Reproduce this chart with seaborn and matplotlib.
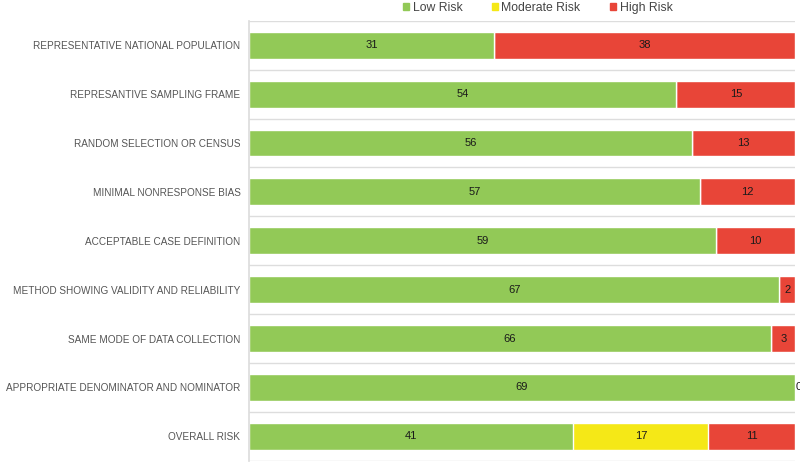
import matplotlib
matplotlib.use("Agg")
import matplotlib.pyplot as plt
import matplotlib.patches as mpatches
import seaborn as sns
import pandas as pd
import numpy as np

sns.set_theme(style="white")
plt.rcParams['font.family'] = ['Liberation Sans', 'DejaVu Sans']

categories = [
    "REPRESENTATIVE NATIONAL POPULATION",
    "REPRESANTIVE SAMPLING FRAME",
    "RANDOM SELECTION OR CENSUS",
    "MINIMAL NONRESPONSE BIAS",
    "ACCEPTABLE CASE DEFINITION",
    "METHOD SHOWING VALIDITY AND RELIABILITY",
    "SAME MODE OF DATA COLLECTION",
    "APPROPRIATE DENOMINATOR AND NOMINATOR",
    "OVERALL RISK",
]
low_risk = [31, 54, 56, 57, 59, 67, 66, 69, 41]
moderate_risk = [0, 0, 0, 0, 0, 0, 0, 0, 17]
high_risk = [38, 15, 13, 12, 10, 2, 3, 0, 11]

colors = {"Low Risk": "#92C957", "Moderate Risk": "#F5E817", "High Risk": "#E84538"}

df = pd.DataFrame({"cat": categories, "low": low_risk,
                   "mod": moderate_risk, "high": high_risk})
df["low_mod"] = df["low"] + df["mod"]
df["total"] = df["low_mod"] + df["high"]

fig, ax = plt.subplots(figsize=(8, 4.63), dpi=100)
fig.subplots_adjust(left=0.311, right=0.994, top=0.955, bottom=0.005)

# stacked by overlaying cumulative sums
sns.barplot(data=df, y="cat", x="total", color=colors["High Risk"], orient="h",
            width=0.55, saturation=1, ax=ax)
sns.barplot(data=df, y="cat", x="low_mod", color=colors["Moderate Risk"], orient="h",
            width=0.55, saturation=1, ax=ax)
sns.barplot(data=df, y="cat", x="low", color=colors["Low Risk"], orient="h",
            width=0.55, saturation=1, ax=ax)

for i, row in df.iterrows():
    ax.text(row["low"] / 2, i, f"{row['low']}", ha="center", va="center",
            fontsize=8, color="#1a1a1a")
    if row["mod"] > 0:
        ax.text(row["low"] + row["mod"] / 2, i, f"{row['mod']}", ha="center",
                va="center", fontsize=8, color="#1a1a1a")
    if row["high"] > 0:
        ax.text(row["low_mod"] + row["high"] / 2, i, f"{row['high']}", ha="center",
                va="center", fontsize=8, color="#1a1a1a")
    else:
        ax.text(row["total"], i, f"{row['high']}", ha="left", va="center",
                fontsize=8, color="#1a1a1a")

ax.set_xlim(0, 69)
ax.set_ylim(len(categories) - 0.5, -0.5)
ax.set_xlabel("")
ax.set_ylabel("")
ax.set_xticks([])
ax.tick_params(axis="y", length=0, pad=6, labelsize=7.2, labelcolor="#555555")
ax.set_yticks(np.arange(len(categories) + 1) - 0.5, minor=True)
ax.grid(axis="y", which="minor", color="#DDDDDD", linewidth=1)
ax.set_axisbelow(True)
for s in ["top", "right", "bottom"]:
    ax.spines[s].set_visible(False)
ax.spines["left"].set_color("#DDDDDD")

handles = [mpatches.Patch(color=c, label=k) for k, c in colors.items()]
fig.legend(handles=handles, loc="upper center", bbox_to_anchor=(0.672, 1.02), ncol=3,
           frameon=False, fontsize=8.8, handlelength=0.5, handleheight=0.5,
           handletextpad=0.3, columnspacing=2.4, labelcolor="#444444")

fig.savefig("out.png", dpi=100)
